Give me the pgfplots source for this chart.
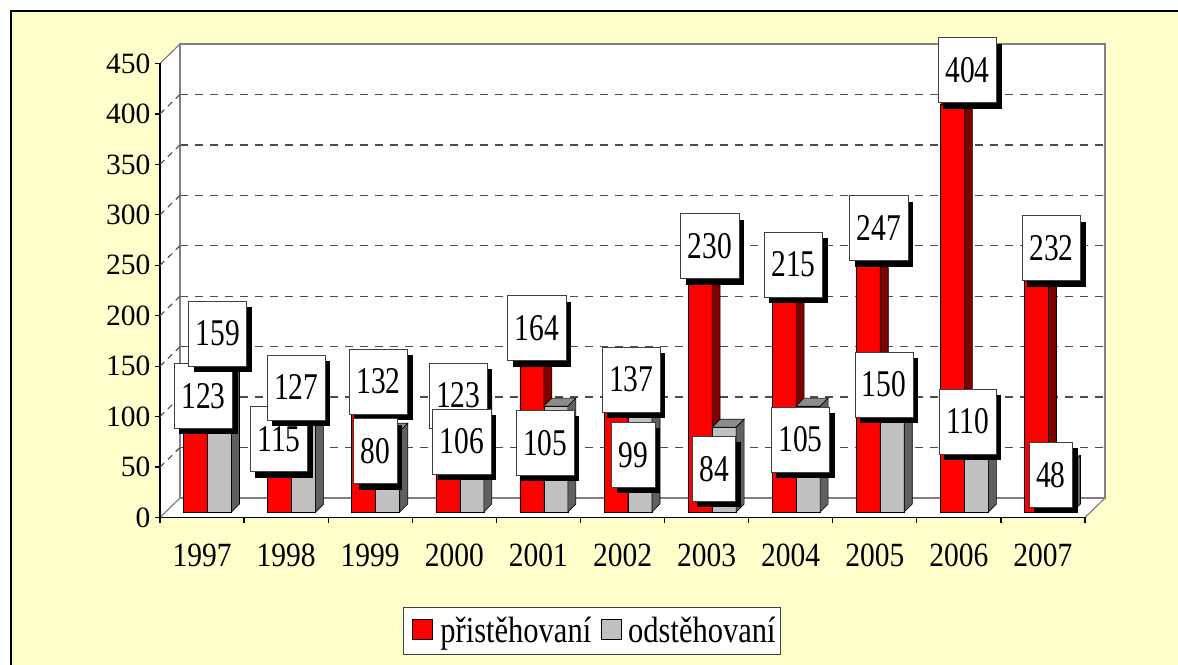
\documentclass[border=0pt]{standalone}
\usepackage{pgfplots}
\pgfplotsset{compat=1.18}
\usepackage{pgfplotstable}
\usepackage{fontspec}
\setmainfont{Liberation Serif}
\usetikzlibrary{shadows}
\definecolor{bgyellow}{RGB}{255,255,204}
\definecolor{redfront}{RGB}{255,0,0}
\definecolor{redtop}{RGB}{192,0,0}
\definecolor{redside}{RGB}{128,0,0}
\definecolor{grayfront}{RGB}{192,192,192}
\definecolor{graytop}{RGB}{140,140,140}
\definecolor{grayside}{RGB}{96,96,96}
\definecolor{wallgray}{RGB}{128,128,128}
\newcommand{\vs}[2][1.15]{\scalebox{1}[#1]{#2}}
\tikzset{labelbox/.style={draw=black!75, line width=0.8pt, fill=white, inner xsep=7pt, inner ysep=0pt,
  minimum height=65pt, font=\fontsize{29.5}{34}\selectfont,
  drop shadow={shadow xshift=5pt, shadow yshift=-6pt, opacity=1, fill=black}}}

\pgfplotstableread{
x  pri ods pdx   pdy   odx  ody
0  123 159 -4.0  -7.9  10.2 18.1
1  115 127 -12.6 -43.2 4.6  -3.6
2  132 80  2.8   -2.7  -0.2 -19.9
3  123 106 -1.6  -7.6  2.0  -36.4
4  164 105 -6.9  18.3  1.3  -36.7
5  137 99  3.3   -5.7  5.6  -42.7
6  230 84  -2.3  33.6  2.0  -41.5
7  215 105 -2.6  30.6  4.2  -33.4
8  247 150 -1.4  34.5  3.8  -23.8
9  404 110 3.2   34.4  3.5  -20.5
10 232 48  3.1   29.6  2.4  -11.4
}\data

\newcommand{\redfaces}[1]{%
  \pgfplotstablegetelem{#1}{pri}\of\data
  \edef\barval{\pgfplotsretval}%
  \edef\tmp{\noexpand\filldraw[fill=redtop,draw=black,line width=0.6pt] ([xshift=-24pt]axis cs:#1,\barval) -- ([xshift=-16pt,yshift=8pt]axis cs:#1,\barval) -- ([xshift=8pt,yshift=8pt]axis cs:#1,\barval) -- (axis cs:#1,\barval) -- cycle;
  \noexpand\filldraw[fill=redside,draw=black,line width=0.6pt] (axis cs:#1,0) -- ([xshift=8pt,yshift=8pt]axis cs:#1,0) -- ([xshift=8pt,yshift=8pt]axis cs:#1,\barval) -- (axis cs:#1,\barval) -- cycle;}%
  \tmp}
\newcommand{\grayfaces}[1]{%
  \pgfplotstablegetelem{#1}{ods}\of\data
  \edef\barval{\pgfplotsretval}%
  \edef\tmp{\noexpand\filldraw[fill=graytop,draw=black,line width=0.6pt] (axis cs:#1,\barval) -- ([xshift=8pt,yshift=8pt]axis cs:#1,\barval) -- ([xshift=32pt,yshift=8pt]axis cs:#1,\barval) -- ([xshift=24pt]axis cs:#1,\barval) -- cycle;
  \noexpand\filldraw[fill=grayside,draw=black,line width=0.6pt] ([xshift=24pt]axis cs:#1,0) -- ([xshift=32pt,yshift=8pt]axis cs:#1,0) -- ([xshift=32pt,yshift=8pt]axis cs:#1,\barval) -- ([xshift=24pt]axis cs:#1,\barval) -- cycle;}%
  \tmp}

\begin{document}
\begin{tikzpicture}
\path[use as bounding box] (0,0) rectangle (1178pt,664pt);
\clip (0,0) rectangle (1178pt,664pt);
\fill[white] (0,0) rectangle (1178pt,664pt);
\draw[black, line width=1.5pt, fill=bgyellow] (11pt,-20pt) rectangle (1200pt,653pt);
% side wall and floor
\fill[white] (160pt,146.5pt) -- (160pt,600.5pt) -- (180pt,620pt) -- (180pt,166pt) -- cycle;
\fill[white] (160pt,146.5pt) -- (1085pt,146.5pt) -- (1105pt,166pt) -- (180pt,166pt) -- cycle;
\draw[wallgray, line width=1.2pt] (160pt,600.5pt) -- (180pt,620pt);
\draw[wallgray, line width=1.2pt] (1085pt,146.5pt) -- (1105pt,166pt);
\draw[wallgray, line width=1.2pt] (160pt,146.5pt) -- (180pt,166pt);
% back wall
\begin{axis}[at={(180pt,166pt)}, anchor=south west, scale only axis,
  width=925pt, height=454pt, xmin=-0.5, xmax=10.5, ymin=0, ymax=450,
  axis background/.style={fill=white},
  axis line style={wallgray, line width=1.4pt},
  xtick=\empty, ytick={50,100,...,400}, yticklabels={}, major tick length=0pt,
  ymajorgrids, grid style={black!70, dash pattern=on 8pt off 7pt, line width=1.3pt}]
\end{axis}
% front axis
\begin{axis}[at={(160pt,146.5pt)}, anchor=south west, scale only axis,
  width=925pt, height=454pt, xmin=-0.5, xmax=10.5, ymin=0, ymax=450, clip=false,
  axis x line*=bottom, axis y line*=left,
  axis line style={black, line width=1.2pt},
  tick align=outside,
  ytick={0,50,...,450},
  xtick={0,...,10},
  xticklabels={{\vs{1997}},{\vs{1998}},{\vs{1999}},{\vs{2000}},{\vs{2001}},{\vs{2002}},{\vs{2003}},{\vs{2004}},{\vs{2005}},{\vs{2006}},{\vs{2007}}},
  minor xtick={-0.5,0.5,...,10.5},
  major x tick style={draw=none},
  minor x tick style={black, line width=1.2pt},
  y tick style={black, line width=1.2pt},
  major tick length=5pt, minor tick length=6pt,
  tick label style={font=\fontsize{29.5}{34}\selectfont},
  xticklabel style={yshift=-18pt},
  yticklabel style={xshift=-1pt},
  /pgf/number format/assume math mode=true]
\pgfplotsinvokeforeach{50,100,...,400}{\draw[black!70, dash pattern=on 6pt off 5pt, line width=1.1pt] (axis cs:-0.5,#1) -- ++(20pt,19.5pt);}
\end{axis}
% bars
\begin{axis}[at={(165.5pt,152pt)}, anchor=south west, scale only axis,
  width=925pt, height=454pt, xmin=-0.5, xmax=10.5, ymin=0, ymax=450,
  hide axis, clip=false,
  /pgf/number format/assume math mode=true,
  legend columns=2,
  legend style={at={(axis description cs:0.2568,-0.2093)}, anchor=north west,
    draw=black!75, line width=0.8pt, fill=white, font=\fontsize{30.5}{36}\selectfont,
    inner xsep=3pt, inner ysep=8pt},
  legend cell align=left]
\addplot[ybar, bar width=24pt, bar shift=-12pt, fill=redfront, draw=black, line width=0.6pt,
  legend image code/.code={\path[draw=none, fill=none] (-6pt,0pt) (26pt,0pt);
    \draw[fill=redfront, draw=black, line width=0.8pt] (0pt,-8pt) rectangle (20pt,12pt);}]
  table[x=x,y=pri]{\data};
\addlegendentry{\vs[1.2]{přistěhovaní}}
\pgfplotsinvokeforeach{0,...,10}{\redfaces{#1}}
\addplot[ybar, bar width=24pt, bar shift=12pt, fill=grayfront, draw=black, line width=0.6pt,
  legend image code/.code={\path[draw=none, fill=none] (-8pt,0pt) (25pt,0pt);
    \draw[fill=grayfront, draw=black, line width=0.8pt] (0pt,-8pt) rectangle (20pt,12pt);}]
  table[x=x,y=ods]{\data};
\addlegendentry{\vs[1.2]{odstěhovaní}}
\pgfplotsinvokeforeach{0,...,10}{\grayfaces{#1}}
% data labels
\addplot[ybar, bar width=24pt, bar shift=-12pt, draw=none, fill=none, forget plot,
  visualization depends on={\thisrow{pdx}\as\ldx},
  visualization depends on={\thisrow{pdy}\as\ldy},
  nodes near coords={\vs[1.28]{\pgfmathprintnumber{\pgfplotspointmeta}}},
  nodes near coords style={labelbox, anchor=center, xshift=\ldx pt, yshift=\ldy pt}]
  table[x=x,y=pri]{\data};
\addplot[ybar, bar width=24pt, bar shift=12pt, draw=none, fill=none, forget plot,
  visualization depends on={\thisrow{odx}\as\ldx},
  visualization depends on={\thisrow{ody}\as\ldy},
  nodes near coords={\vs[1.28]{\pgfmathprintnumber{\pgfplotspointmeta}}},
  nodes near coords style={labelbox, anchor=center, xshift=\ldx pt, yshift=\ldy pt}]
  table[x=x,y=ods]{\data};
\end{axis}
\end{tikzpicture}
\end{document}
